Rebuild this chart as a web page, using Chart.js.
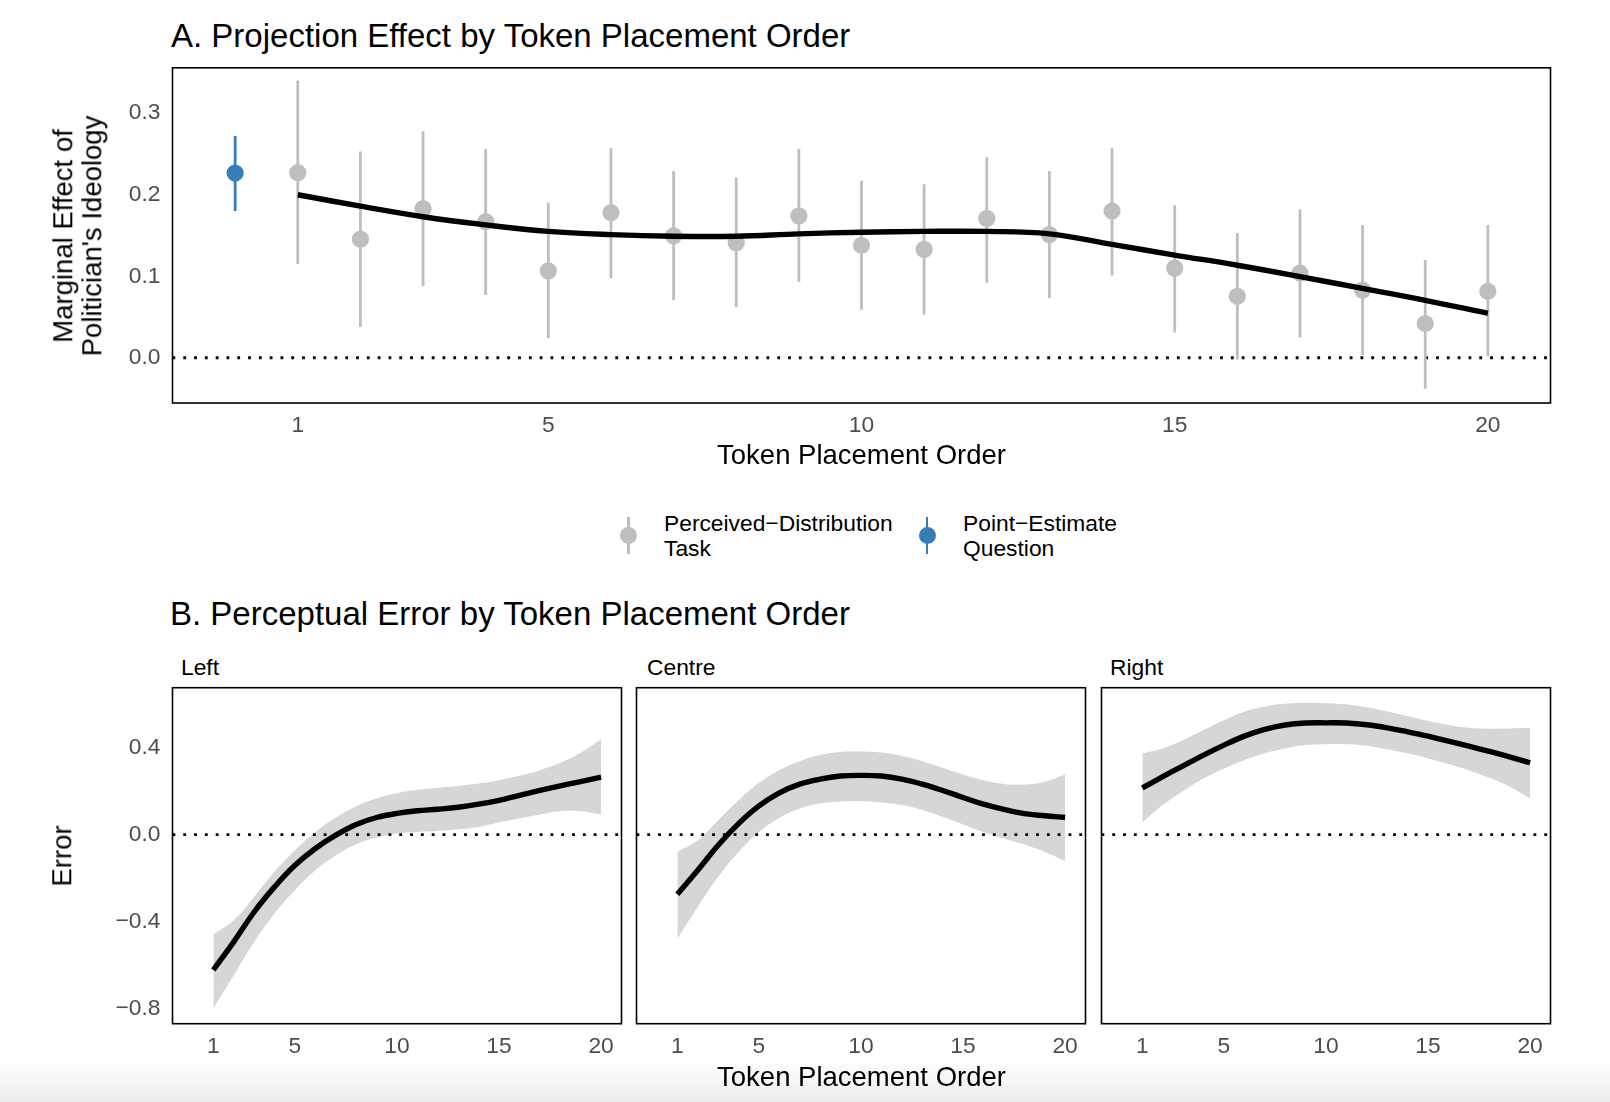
<!DOCTYPE html>
<html>
<head>
<meta charset="utf-8">
<script src="https://cdn.jsdelivr.net/npm/chart.js@4.4.1/dist/chart.umd.min.js"></script>
<style>
  html, body { margin: 0; padding: 0; background: #fff; }
  body { width: 1610px; height: 1102px; position: relative; overflow: hidden;
         font-family: "Liberation Sans", Arial, Helvetica, sans-serif; }
  canvas { position: absolute; }
  .t { position: absolute; white-space: nowrap; line-height: 1; color: #000; }
  .c { transform: translate(-50%, -50%); }
  .l { transform: translate(0, -50%); }
  .key { position: absolute; width: 2.6px; height: 37px; top: 517px; }
  .dot { position: absolute; width: 17px; height: 17px; border-radius: 50%; top: 526.5px; }
  .fade { position: absolute; left: 0; top: 1060px; width: 1610px; height: 42px;
          background: linear-gradient(to bottom, rgba(238,238,238,0), #ececec); }
</style>
</head>
<body>
<div class="fade"></div>

<div class="t l" style="left:171px; top:35px; font-size:33px;">A. Projection Effect by Token Placement Order</div>
<canvas id="chartA" width="1610" height="480" style="left:0; top:0;"></canvas>
<div class="t c" style="left:78px; top:235.5px; font-size:27.5px; line-height:28.7px; text-align:center; transform:translate(-50%,-50%) rotate(-90deg);">Marginal Effect of<br>Politician's Ideology</div>
<div class="t c" style="left:861.5px; top:455px; font-size:27.5px;">Token Placement Order</div>

<!-- legend -->
<div class="key" style="left:627.2px; background:#bebebe;"></div>
<div class="dot" style="left:620px; background:#bebebe;"></div>
<div class="t l" style="left:664px; top:536px; font-size:22.8px; line-height:24.6px;">Perceived&minus;Distribution<br>Task</div>
<div class="key" style="left:925.8px; background:#377eb8;"></div>
<div class="dot" style="left:918.5px; background:#377eb8;"></div>
<div class="t l" style="left:963px; top:536px; font-size:22.8px; line-height:24.6px;">Point&minus;Estimate<br>Question</div>

<div class="t l" style="left:170px; top:613px; font-size:33px;">B. Perceptual Error by Token Placement Order</div>
<div class="t l" style="left:181px; top:667px; font-size:22.8px;">Left</div>
<div class="t l" style="left:647px; top:667px; font-size:22.8px;">Centre</div>
<div class="t l" style="left:1110px; top:667px; font-size:22.8px;">Right</div>

<canvas id="chartLeft" width="630" height="462" style="left:0; top:640px;"></canvas>
<canvas id="chartCentre" width="465" height="462" style="left:630px; top:640px;"></canvas>
<canvas id="chartRight" width="515" height="462" style="left:1095px; top:640px;"></canvas>

<div class="t c" style="left:61.5px; top:855.5px; font-size:27.5px; transform:translate(-50%,-50%) rotate(-90deg);">Error</div>
<div class="t c" style="left:861.5px; top:1076.5px; font-size:27.5px;">Token Placement Order</div>

<script>
  // ======= 데이터 =======
  const orders = [1, 2, 3, 4, 5, 6, 7, 8, 9, 10, 11, 12, 13, 14, 15, 16, 17, 18, 19, 20];
  const xTicks = [1, 5, 10, 15, 20];

  // A. Perceived-Distribution Task (estimate + 95% CI)
  const pdEst  = [0.227, 0.1455, 0.183, 0.167, 0.1066, 0.178, 0.1496, 0.141, 0.174, 0.138,
                  0.133, 0.171, 0.151, 0.180, 0.110, 0.0754, 0.104, 0.083, 0.042, 0.0816];
  const pdLow  = [0.115, 0.0377, 0.088, 0.077, 0.024, 0.0975, 0.0705, 0.062, 0.093, 0.059,
                  0.053, 0.092, 0.073, 0.101, 0.031, -0.002, 0.025, 0.003, -0.038, 0.002];
  const pdHigh = [0.340, 0.253, 0.278, 0.256, 0.190, 0.257, 0.229, 0.221, 0.256, 0.217,
                  0.213, 0.246, 0.229, 0.257, 0.187, 0.153, 0.182, 0.163, 0.120, 0.163];
  // A. Point-Estimate Question (shown at order 0)
  const peX = [0];
  const peEst = [0.2266];
  const peLow = [0.180];
  const peHigh = [0.272];
  // A. smooth fit
  const smoothA = [0.200, 0.186, 0.173, 0.163, 0.155, 0.151, 0.149, 0.149, 0.152, 0.154,
                   0.155, 0.155, 0.152, 0.139, 0.126, 0.1135, 0.0996, 0.085, 0.0705, 0.0545];
  const yTicksA = [0, 0.1, 0.2, 0.3];

  // B. Perceptual error, fit and ribbon by panel
  const leftFit  = [-0.621, -0.492, -0.355, -0.240, -0.141, -0.064, -0.003, 0.046, 0.078, 0.097,
                    0.109, 0.116, 0.125, 0.139, 0.157, 0.180, 0.202, 0.223, 0.243, 0.263];
  const leftHigh = [-0.458, -0.393, -0.286, -0.171, -0.072, 0.012, 0.078, 0.130, 0.165, 0.190,
                    0.205, 0.215, 0.223, 0.234, 0.249, 0.269, 0.295, 0.329, 0.375, 0.437];
  const leftLow  = [-0.797, -0.645, -0.492, -0.362, -0.255, -0.164, -0.095, -0.044, -0.014, 0.005,
                    0.012, 0.016, 0.024, 0.035, 0.055, 0.073, 0.092, 0.107, 0.107, 0.092];

  const centreFit  = [-0.274, -0.164, -0.049, 0.050, 0.131, 0.191, 0.231, 0.254, 0.268, 0.271,
                      0.268, 0.254, 0.231, 0.202, 0.170, 0.139, 0.115, 0.096, 0.086, 0.078];
  const centreHigh = [-0.080, -0.026, 0.066, 0.157, 0.237, 0.295, 0.336, 0.364, 0.378, 0.381,
                      0.376, 0.361, 0.336, 0.306, 0.275, 0.249, 0.232, 0.229, 0.242, 0.275];
  const centreLow  = [-0.477, -0.332, -0.194, -0.080, 0.012, 0.076, 0.119, 0.142, 0.151, 0.153,
                      0.147, 0.135, 0.112, 0.081, 0.046, 0.012, -0.018, -0.046, -0.080, -0.121];

  const rightFit  = [0.214, 0.265, 0.315, 0.364, 0.410, 0.451, 0.482, 0.502, 0.511, 0.512,
                     0.511, 0.503, 0.489, 0.471, 0.451, 0.428, 0.405, 0.381, 0.356, 0.329];
  const rightHigh = [0.372, 0.394, 0.433, 0.479, 0.524, 0.563, 0.587, 0.599, 0.604, 0.602,
                     0.596, 0.583, 0.564, 0.543, 0.520, 0.502, 0.489, 0.485, 0.486, 0.489];
  const rightLow  = [0.055, 0.135, 0.200, 0.257, 0.303, 0.341, 0.372, 0.394, 0.410, 0.414,
                     0.414, 0.407, 0.391, 0.372, 0.349, 0.323, 0.295, 0.260, 0.219, 0.165];
  const yTicksB = [-0.8, -0.4, 0, 0.4];

  // ======= 공통 설정 =======
  Chart.defaults.font.family = '"Liberation Sans", Arial, Helvetica, sans-serif';
  const GREY = '#bebebe';
  const BLUE = '#377eb8';
  const TICK_COLOR = '#4d4d4d';
  const CURVE = 0.4;

  const pts = (xs, ys) => xs.map((x, i) => ({ x, y: ys[i] }));
  // 에러바: 구간마다 null 로 끊어서 한 데이터셋에 그림
  const bars = (xs, lo, hi) => xs.flatMap((x, i) => [{ x, y: lo[i] }, { x, y: hi[i] }, { x, y: null }]);
  const fmt = v => (v < 0 ? '\u2212' : '') + Math.abs(v).toFixed(1);

  // 패널 테두리
  const panelBorder = {
    id: 'panelBorder',
    afterDatasetsDraw(chart) {
      const { ctx, chartArea: a } = chart;
      ctx.save();
      ctx.strokeStyle = '#000';
      ctx.lineWidth = 1.6;
      ctx.strokeRect(a.left, a.top, a.right - a.left, a.bottom - a.top);
      ctx.restore();
    }
  };

  const zeroLine = {
    data: [{ x: -1, y: 0 }, { x: 21, y: 0 }],
    borderColor: '#000',
    borderWidth: 2.8,
    borderDash: [2.8, 8.0],
    pointRadius: 0
  };

  function xScale(height) {
    return {
      type: 'linear', min: -1, max: 21,
      grid: { display: false, drawTicks: false },
      border: { display: false },
      afterBuildTicks: s => { s.ticks = xTicks.map(v => ({ value: v })); },
      afterFit: s => { s.height = height; },
      ticks: { color: TICK_COLOR, font: { size: 22.8 }, padding: 9.5, autoSkip: false, maxRotation: 0 }
    };
  }

  function yScale(min, max, tickVals, show, width) {
    return {
      type: 'linear', min, max, display: show,
      grid: { display: false, drawTicks: false },
      border: { display: false },
      afterBuildTicks: s => { s.ticks = tickVals.map(v => ({ value: v })); },
      afterFit: s => { s.width = width; },
      ticks: { color: TICK_COLOR, font: { size: 22.8 }, padding: 12, callback: v => fmt(v) }
    };
  }

  const baseOptions = (scales, padding) => ({
    responsive: false,
    animation: false,
    events: [],
    layout: { padding },
    plugins: { legend: { display: false }, tooltip: { enabled: false } },
    scales
  });

  // ======= (A) 투사 효과 =======
  new Chart(document.getElementById('chartA'), {
    type: 'line',
    data: {
      datasets: [
        {
          label: 'smooth',
          data: pts(orders, smoothA),
          borderColor: '#000', borderWidth: 5.4,
          pointRadius: 0, tension: CURVE,
          order: 0
        },
        {
          label: 'Perceived\u2212Distribution Task',
          data: pts(orders, pdEst),
          showLine: false, pointRadius: 8.6, pointBorderWidth: 0,
          pointBackgroundColor: GREY, order: 1
        },
        {
          label: 'Point\u2212Estimate Question',
          data: pts(peX, peEst),
          showLine: false, pointRadius: 8.6, pointBorderWidth: 0,
          pointBackgroundColor: BLUE, order: 1
        },
        {
          label: 'CI perceived',
          data: bars(orders, pdLow, pdHigh),
          borderColor: GREY, borderWidth: 2.8, pointRadius: 0, spanGaps: false,
          order: 2
        },
        {
          label: 'CI point',
          data: bars(peX, peLow, peHigh),
          borderColor: BLUE, borderWidth: 2.8, pointRadius: 0, spanGaps: false,
          order: 2
        },
        Object.assign({ label: 'zero', order: 3 }, zeroLine)
      ]
    },
    options: baseOptions(
      { x: xScale(77), y: yScale(-0.0555, 0.3557, yTicksA, true, 172.5) },
      { left: 0, top: 67.8, right: 59.5, bottom: 0 }
    ),
    plugins: [panelBorder]
  });

  // ======= (B) 지각 오차: 패널별 =======
  function facet(id, fit, low, high, showY, padLeft, padRight) {
    new Chart(document.getElementById(id), {
      type: 'line',
      data: {
        datasets: [
          {
            label: 'fit', data: pts(orders, fit),
            borderColor: '#000', borderWidth: 5.4, pointRadius: 0,
            tension: CURVE, order: 0
          },
          Object.assign({ label: 'zero', order: 1 }, zeroLine),
          {
            label: 'upper', data: pts(orders, high),
            borderWidth: 0, borderColor: 'rgba(0,0,0,0)', pointRadius: 0,
            tension: CURVE,
            fill: '+1', backgroundColor: '#d6d6d6', order: 2
          },
          {
            label: 'lower', data: pts(orders, low),
            borderWidth: 0, borderColor: 'rgba(0,0,0,0)', pointRadius: 0,
            tension: CURVE, order: 3
          }
        ]
      },
      options: baseOptions(
        { x: xScale(78.3), y: yScale(-0.867, 0.673, yTicksB, showY, showY ? 172.5 : 0) },
        { left: padLeft, top: 47.7, right: padRight, bottom: 0 }
      ),
      plugins: [panelBorder]
    });
  }

  facet('chartLeft', leftFit, leftLow, leftHigh, true, 0, 8.5);
  facet('chartCentre', centreFit, centreLow, centreHigh, false, 6.5, 9.5);
  facet('chartRight', rightFit, rightLow, rightHigh, false, 6.5, 59.5);
</script>
</body>
</html>
